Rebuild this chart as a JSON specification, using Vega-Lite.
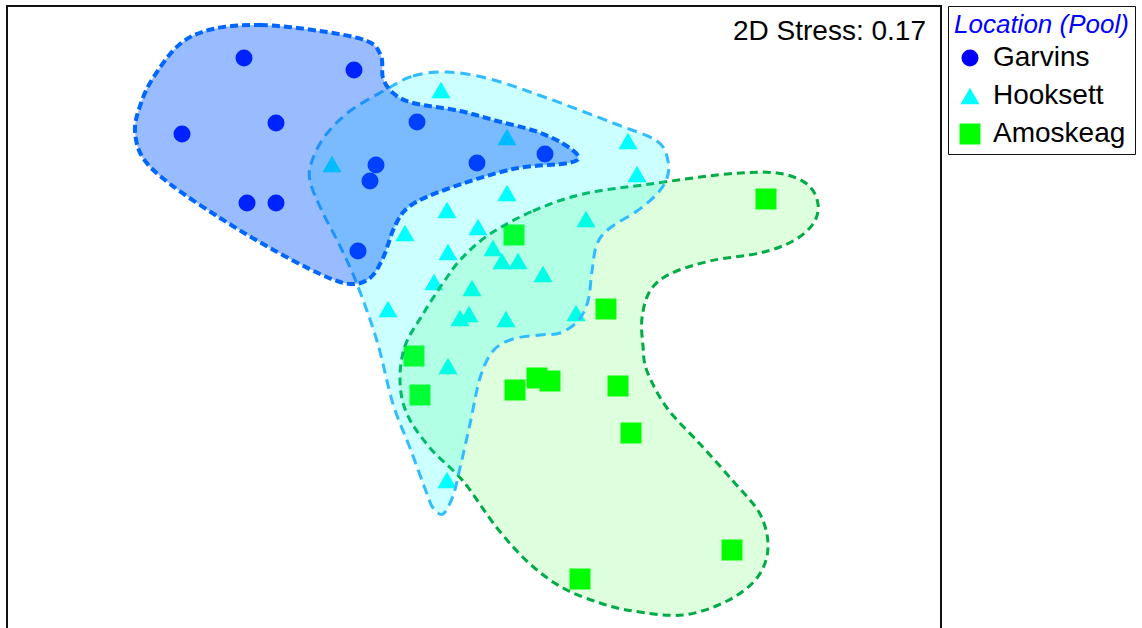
{
  "$schema": "https://vega.github.io/schema/vega-lite/v6.json",
  "width": 934,
  "height": 630,
  "padding": {"left": 7, "top": 5, "right": 0, "bottom": 0},
  "background": "white",
  "config": {
    "view": {"stroke": "#111111", "strokeWidth": 2},
    "font": "Liberation Sans",
    "legend": {
      "labelFont": "Liberation Sans",
      "titleFont": "Liberation Sans",
      "labelFontSize": 28,
      "titleFontSize": 26,
      "titleFontStyle": "italic",
      "titleFontWeight": "normal",
      "titleColor": "#0000ff",
      "labelColor": "#000000",
      "strokeColor": "#111111",
      "padding": 6,
      "rowPadding": 10,
      "symbolOffset": 2,
      "labelOffset": 9,
      "titlePadding": 6,
      "symbolSize": 330,
      "symbolStrokeWidth": 0,
      "symbolOpacity": 1
    }
  },
  "datasets": {
    "pts": [
      {"loc": "Garvins", "x": 244, "y": 57},
      {"loc": "Garvins", "x": 354, "y": 69},
      {"loc": "Garvins", "x": 182, "y": 133},
      {"loc": "Garvins", "x": 276, "y": 122},
      {"loc": "Garvins", "x": 417, "y": 121},
      {"loc": "Garvins", "x": 376, "y": 164},
      {"loc": "Garvins", "x": 370, "y": 180},
      {"loc": "Garvins", "x": 477, "y": 162},
      {"loc": "Garvins", "x": 545, "y": 153},
      {"loc": "Garvins", "x": 247, "y": 202},
      {"loc": "Garvins", "x": 276, "y": 202},
      {"loc": "Garvins", "x": 358, "y": 250},
      {"loc": "Hooksett", "x": 441, "y": 89},
      {"loc": "Hooksett", "x": 507, "y": 136},
      {"loc": "Hooksett", "x": 332, "y": 163},
      {"loc": "Hooksett", "x": 628, "y": 140},
      {"loc": "Hooksett", "x": 637, "y": 173},
      {"loc": "Hooksett", "x": 507, "y": 192},
      {"loc": "Hooksett", "x": 447, "y": 209},
      {"loc": "Hooksett", "x": 586, "y": 218},
      {"loc": "Hooksett", "x": 478, "y": 226},
      {"loc": "Hooksett", "x": 405, "y": 232},
      {"loc": "Hooksett", "x": 448, "y": 251},
      {"loc": "Hooksett", "x": 493, "y": 247},
      {"loc": "Hooksett", "x": 502, "y": 260},
      {"loc": "Hooksett", "x": 518, "y": 260},
      {"loc": "Hooksett", "x": 543, "y": 273},
      {"loc": "Hooksett", "x": 434, "y": 281},
      {"loc": "Hooksett", "x": 472, "y": 287},
      {"loc": "Hooksett", "x": 388, "y": 308},
      {"loc": "Hooksett", "x": 460, "y": 317},
      {"loc": "Hooksett", "x": 469, "y": 313},
      {"loc": "Hooksett", "x": 506, "y": 318},
      {"loc": "Hooksett", "x": 576, "y": 312},
      {"loc": "Hooksett", "x": 448, "y": 365},
      {"loc": "Hooksett", "x": 447, "y": 479},
      {"loc": "Amoskeag", "x": 766, "y": 198},
      {"loc": "Amoskeag", "x": 514, "y": 234},
      {"loc": "Amoskeag", "x": 606, "y": 308},
      {"loc": "Amoskeag", "x": 414, "y": 355},
      {"loc": "Amoskeag", "x": 420, "y": 394},
      {"loc": "Amoskeag", "x": 537, "y": 377},
      {"loc": "Amoskeag", "x": 550, "y": 380},
      {"loc": "Amoskeag", "x": 515, "y": 389},
      {"loc": "Amoskeag", "x": 618, "y": 385},
      {"loc": "Amoskeag", "x": 631, "y": 432},
      {"loc": "Amoskeag", "x": 732, "y": 549},
      {"loc": "Amoskeag", "x": 580, "y": 578}
    ],
    "hull": [
      {"loc": "Garvins", "i": 1, "x": 213, "y": 28},
      {"loc": "Garvins", "i": 2, "x": 260, "y": 24},
      {"loc": "Garvins", "i": 3, "x": 320, "y": 30},
      {"loc": "Garvins", "i": 4, "x": 367, "y": 40},
      {"loc": "Garvins", "i": 5, "x": 381, "y": 55},
      {"loc": "Garvins", "i": 6, "x": 383, "y": 77},
      {"loc": "Garvins", "i": 7, "x": 393, "y": 92},
      {"loc": "Garvins", "i": 8, "x": 413, "y": 102},
      {"loc": "Garvins", "i": 9, "x": 460, "y": 110},
      {"loc": "Garvins", "i": 10, "x": 497, "y": 120},
      {"loc": "Garvins", "i": 11, "x": 535, "y": 130},
      {"loc": "Garvins", "i": 12, "x": 562, "y": 142},
      {"loc": "Garvins", "i": 13, "x": 578, "y": 155},
      {"loc": "Garvins", "i": 14, "x": 568, "y": 162},
      {"loc": "Garvins", "i": 15, "x": 513, "y": 168},
      {"loc": "Garvins", "i": 16, "x": 447, "y": 188},
      {"loc": "Garvins", "i": 17, "x": 410, "y": 205},
      {"loc": "Garvins", "i": 18, "x": 395, "y": 225},
      {"loc": "Garvins", "i": 19, "x": 383, "y": 257},
      {"loc": "Garvins", "i": 20, "x": 370, "y": 277},
      {"loc": "Garvins", "i": 21, "x": 350, "y": 283},
      {"loc": "Garvins", "i": 22, "x": 320, "y": 273},
      {"loc": "Garvins", "i": 23, "x": 270, "y": 247},
      {"loc": "Garvins", "i": 24, "x": 220, "y": 217},
      {"loc": "Garvins", "i": 25, "x": 170, "y": 183},
      {"loc": "Garvins", "i": 26, "x": 143, "y": 157},
      {"loc": "Garvins", "i": 27, "x": 135, "y": 130},
      {"loc": "Garvins", "i": 28, "x": 140, "y": 105},
      {"loc": "Garvins", "i": 29, "x": 153, "y": 77},
      {"loc": "Garvins", "i": 30, "x": 180, "y": 43},
      {"loc": "Hooksett", "i": 1, "x": 387, "y": 88},
      {"loc": "Hooksett", "i": 2, "x": 413, "y": 75},
      {"loc": "Hooksett", "i": 3, "x": 447, "y": 71},
      {"loc": "Hooksett", "i": 4, "x": 490, "y": 78},
      {"loc": "Hooksett", "i": 5, "x": 547, "y": 97},
      {"loc": "Hooksett", "i": 6, "x": 613, "y": 122},
      {"loc": "Hooksett", "i": 7, "x": 657, "y": 140},
      {"loc": "Hooksett", "i": 8, "x": 668, "y": 160},
      {"loc": "Hooksett", "i": 9, "x": 667, "y": 177},
      {"loc": "Hooksett", "i": 10, "x": 657, "y": 193},
      {"loc": "Hooksett", "i": 11, "x": 637, "y": 210},
      {"loc": "Hooksett", "i": 12, "x": 610, "y": 227},
      {"loc": "Hooksett", "i": 13, "x": 597, "y": 243},
      {"loc": "Hooksett", "i": 14, "x": 592, "y": 270},
      {"loc": "Hooksett", "i": 15, "x": 588, "y": 300},
      {"loc": "Hooksett", "i": 16, "x": 578, "y": 320},
      {"loc": "Hooksett", "i": 17, "x": 560, "y": 332},
      {"loc": "Hooksett", "i": 18, "x": 540, "y": 334},
      {"loc": "Hooksett", "i": 19, "x": 513, "y": 338},
      {"loc": "Hooksett", "i": 20, "x": 493, "y": 350},
      {"loc": "Hooksett", "i": 21, "x": 480, "y": 377},
      {"loc": "Hooksett", "i": 22, "x": 470, "y": 423},
      {"loc": "Hooksett", "i": 23, "x": 460, "y": 467},
      {"loc": "Hooksett", "i": 24, "x": 453, "y": 495},
      {"loc": "Hooksett", "i": 25, "x": 443, "y": 513},
      {"loc": "Hooksett", "i": 26, "x": 433, "y": 507},
      {"loc": "Hooksett", "i": 27, "x": 427, "y": 493},
      {"loc": "Hooksett", "i": 28, "x": 410, "y": 447},
      {"loc": "Hooksett", "i": 29, "x": 393, "y": 403},
      {"loc": "Hooksett", "i": 30, "x": 377, "y": 340},
      {"loc": "Hooksett", "i": 31, "x": 357, "y": 283},
      {"loc": "Hooksett", "i": 32, "x": 340, "y": 245},
      {"loc": "Hooksett", "i": 33, "x": 322, "y": 210},
      {"loc": "Hooksett", "i": 34, "x": 310, "y": 180},
      {"loc": "Hooksett", "i": 35, "x": 312, "y": 160},
      {"loc": "Hooksett", "i": 36, "x": 325, "y": 135},
      {"loc": "Hooksett", "i": 37, "x": 350, "y": 110},
      {"loc": "Amoskeag", "i": 1, "x": 490, "y": 233},
      {"loc": "Amoskeag", "i": 2, "x": 533, "y": 210},
      {"loc": "Amoskeag", "i": 3, "x": 583, "y": 193},
      {"loc": "Amoskeag", "i": 4, "x": 650, "y": 183},
      {"loc": "Amoskeag", "i": 5, "x": 727, "y": 173},
      {"loc": "Amoskeag", "i": 6, "x": 777, "y": 172},
      {"loc": "Amoskeag", "i": 7, "x": 807, "y": 183},
      {"loc": "Amoskeag", "i": 8, "x": 818, "y": 203},
      {"loc": "Amoskeag", "i": 9, "x": 813, "y": 223},
      {"loc": "Amoskeag", "i": 10, "x": 793, "y": 240},
      {"loc": "Amoskeag", "i": 11, "x": 760, "y": 252},
      {"loc": "Amoskeag", "i": 12, "x": 710, "y": 260},
      {"loc": "Amoskeag", "i": 13, "x": 670, "y": 273},
      {"loc": "Amoskeag", "i": 14, "x": 650, "y": 290},
      {"loc": "Amoskeag", "i": 15, "x": 642, "y": 317},
      {"loc": "Amoskeag", "i": 16, "x": 643, "y": 345},
      {"loc": "Amoskeag", "i": 17, "x": 647, "y": 370},
      {"loc": "Amoskeag", "i": 18, "x": 667, "y": 407},
      {"loc": "Amoskeag", "i": 19, "x": 700, "y": 443},
      {"loc": "Amoskeag", "i": 20, "x": 733, "y": 480},
      {"loc": "Amoskeag", "i": 21, "x": 760, "y": 513},
      {"loc": "Amoskeag", "i": 22, "x": 768, "y": 547},
      {"loc": "Amoskeag", "i": 23, "x": 757, "y": 577},
      {"loc": "Amoskeag", "i": 24, "x": 727, "y": 600},
      {"loc": "Amoskeag", "i": 25, "x": 683, "y": 614},
      {"loc": "Amoskeag", "i": 26, "x": 633, "y": 610},
      {"loc": "Amoskeag", "i": 27, "x": 600, "y": 602},
      {"loc": "Amoskeag", "i": 28, "x": 563, "y": 587},
      {"loc": "Amoskeag", "i": 29, "x": 530, "y": 563},
      {"loc": "Amoskeag", "i": 30, "x": 497, "y": 527},
      {"loc": "Amoskeag", "i": 31, "x": 463, "y": 480},
      {"loc": "Amoskeag", "i": 32, "x": 430, "y": 447},
      {"loc": "Amoskeag", "i": 33, "x": 407, "y": 413},
      {"loc": "Amoskeag", "i": 34, "x": 400, "y": 380},
      {"loc": "Amoskeag", "i": 35, "x": 405, "y": 345},
      {"loc": "Amoskeag", "i": 36, "x": 423, "y": 313},
      {"loc": "Amoskeag", "i": 37, "x": 443, "y": 282},
      {"loc": "Amoskeag", "i": 38, "x": 462, "y": 257}
    ],
    "stress": [{"label": "2D Stress: 0.17", "x": 926, "y": 31}]
  },
  "layer": [
    {
      "data": {"name": "pts"},
      "mark": {"type": "point", "filled": true, "opacity": 1, "strokeWidth": 0},
      "encoding": {
        "x": {"field": "x", "type": "quantitative", "scale": {"domain": [7, 941], "nice": false, "zero": false}, "axis": null},
        "y": {"field": "y", "type": "quantitative", "scale": {"domain": [5, 635], "nice": false, "zero": false, "reverse": true}, "axis": null},
        "color": {"field": "loc", "type": "nominal", "scale": {"domain": ["Garvins", "Hooksett", "Amoskeag"], "range": ["#0000ff", "#00ffff", "#00ff00"]},
          "legend": {"title": "\u00a0Location (Pool)", "orient": "none", "legendX": 941, "legendY": 0}},
        "shape": {"field": "loc", "type": "nominal", "scale": {"domain": ["Garvins", "Hooksett", "Amoskeag"], "range": ["circle", "triangle-up", "square"]},
          "legend": {"title": "\u00a0Location (Pool)", "orient": "none", "legendX": 941, "legendY": 0}},
        "size": {"field": "loc", "type": "nominal", "scale": {"domain": ["Garvins", "Hooksett", "Amoskeag"], "range": [289, 440, 324]}, "legend": null}
      }
    },
    {
      "data": {"name": "hull"},
      "transform": [{"filter": "datum.loc === 'Amoskeag'"}],
      "mark": {"type": "line", "interpolate": "cardinal-closed", "fill": "#00ff00", "fillOpacity": 0.13, "stroke": "#00aa44", "strokeWidth": 3, "strokeDash": [8, 5]},
      "encoding": {
        "x": {"field": "x", "type": "quantitative"},
        "y": {"field": "y", "type": "quantitative"},
        "order": {"field": "i", "type": "quantitative"}
      }
    },
    {
      "data": {"name": "hull"},
      "transform": [{"filter": "datum.loc === 'Hooksett'"}],
      "mark": {"type": "line", "interpolate": "cardinal-closed", "fill": "#00ffff", "fillOpacity": 0.2, "stroke": "#33bbff", "strokeWidth": 3, "strokeDash": [10, 6]},
      "encoding": {
        "x": {"field": "x", "type": "quantitative"},
        "y": {"field": "y", "type": "quantitative"},
        "order": {"field": "i", "type": "quantitative"}
      }
    },
    {
      "data": {"name": "hull"},
      "transform": [{"filter": "datum.loc === 'Garvins'"}],
      "mark": {"type": "line", "interpolate": "cardinal-closed", "fill": "#0055ff", "fillOpacity": 0.4, "stroke": "#0066ff", "strokeWidth": 4, "strokeDash": [8, 4]},
      "encoding": {
        "x": {"field": "x", "type": "quantitative"},
        "y": {"field": "y", "type": "quantitative"},
        "order": {"field": "i", "type": "quantitative"}
      }
    },
    {
      "data": {"name": "stress"},
      "mark": {"type": "text", "align": "right", "baseline": "middle", "fontSize": 28, "font": "Liberation Sans", "color": "#000000"},
      "encoding": {
        "x": {"field": "x", "type": "quantitative"},
        "y": {"field": "y", "type": "quantitative"},
        "text": {"field": "label"}
      }
    }
  ]
}
